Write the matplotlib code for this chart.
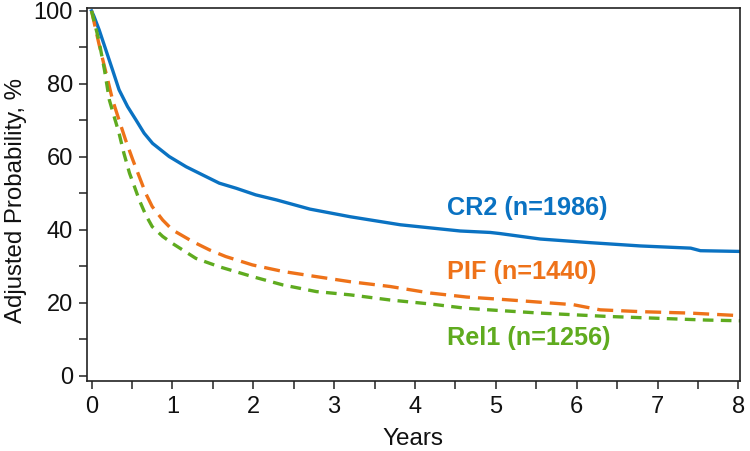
import matplotlib
matplotlib.use("Agg")
import matplotlib.pyplot as plt
from matplotlib.ticker import MultipleLocator

plt.rcParams['font.family'] = ['Liberation Sans', 'DejaVu Sans']

# Data (years, adjusted probability %)
cr2_years = [0.0, 0.03, 0.094, 0.177, 0.26, 0.34, 0.445, 0.55, 0.65, 0.755, 0.96, 1.17, 1.37,
             1.58, 1.79, 2.03, 2.29, 2.70, 3.20, 3.82, 4.56, 4.93, 5.05, 5.55, 6.17, 6.79,
             7.41, 7.53, 8.02]
cr2_vals = [100.0, 98.5, 94.8, 89.3, 83.8, 78.4, 73.8, 70.1, 66.5, 63.7, 60.1, 57.3, 55.1,
            52.8, 51.4, 49.6, 48.2, 45.7, 43.6, 41.4, 39.7, 39.3, 39.0, 37.5, 36.5, 35.6,
            35.0, 34.3, 34.1]

pif_years = [0.0, 0.09, 0.18, 0.26, 0.34, 0.42, 0.51, 0.59, 0.67, 0.75, 0.88, 1.0, 1.25,
             1.46, 1.66, 1.99, 2.37, 2.78, 3.20, 3.69, 4.19, 4.64, 5.05, 5.42, 5.96, 6.29,
             6.79, 7.41, 8.02]
pif_vals = [100.0, 91.1, 82.9, 75.6, 70.1, 64.7, 59.2, 54.6, 50.0, 46.4, 42.7, 40.0, 36.8,
            34.5, 32.7, 30.4, 28.6, 27.2, 25.8, 24.5, 22.7, 21.6, 21.0, 20.4, 19.5, 18.1,
            17.6, 17.2, 16.5]

rel1_years = [0.0, 0.09, 0.16, 0.22, 0.28, 0.34, 0.40, 0.47, 0.53, 0.59, 0.67, 0.75, 0.88,
              1.0, 1.29, 1.58, 1.99, 2.37, 2.78, 3.20, 3.69, 4.19, 4.64, 5.05, 5.55, 6.37,
              6.98, 7.6, 8.02]
rel1_vals = [100.0, 92.0, 83.8, 75.6, 71.0, 66.5, 61.0, 55.5, 51.9, 48.2, 44.1, 40.9, 38.2,
             36.3, 32.2, 29.9, 27.2, 24.9, 23.1, 22.2, 20.8, 19.7, 18.5, 17.9, 17.2, 16.3,
             15.8, 15.3, 15.1]

labels = ["CR2 (n=1986)", "PIF (n=1440)", "Rel1 (n=1256)"]
label_y = [46.0, 28.5, 10.4]
label_x = 4.40

x_ticks = [0, 1, 2, 3, 4, 5, 6, 7, 8]
y_ticks = [0, 20, 40, 60, 80, 100]

blue = '#0a72c2'
orange = '#ee7219'
green = '#5fab1f'

fig = plt.figure(figsize=(7.5, 4.51), dpi=100)
ax = fig.add_axes([0.1156, 0.1552, 0.8711, 0.8271])

ax.plot(cr2_years, cr2_vals, color=blue, lw=2.4, solid_joinstyle='round')
l2, = ax.plot(pif_years, pif_vals, color=orange, lw=2.4)
l2.set_dashes([4.8, 2.4])
l3, = ax.plot(rel1_years, rel1_vals, color=green, lw=2.4)
l3.set_dashes([3.2, 2.2])

for txt, yv, c in zip(labels, label_y, [blue, orange, green]):
    ax.text(label_x, yv, txt, color=c, fontsize=18.2, fontweight='bold',
            ha='left', va='center')

ax.set_xlim(-0.06, 8.02)
ax.set_ylim(-1.4, 100.8)
ax.set_xticks(x_ticks)
ax.set_yticks(y_ticks)
ax.xaxis.set_minor_locator(MultipleLocator(0.5))
ax.yaxis.set_minor_locator(MultipleLocator(10))
ax.tick_params(which='both', length=6, width=1.1, color='#222222', labelsize=17,
               labelcolor='#111111')
ax.tick_params(axis='x', which='both', pad=5)
ax.tick_params(axis='y', which='both', pad=4)
for s in ax.spines.values():
    s.set_linewidth(1.2)
    s.set_color('#222222')

ax.set_xlabel("Years", fontsize=17.5, color='#111111')
ax.set_ylabel("Adjusted Probability, %", fontsize=17.3, color='#111111')
ax.yaxis.set_label_coords(-0.091, 0.485)
ax.xaxis.set_label_coords(0.5, -0.127)

fig.savefig("out.png", dpi=100)
